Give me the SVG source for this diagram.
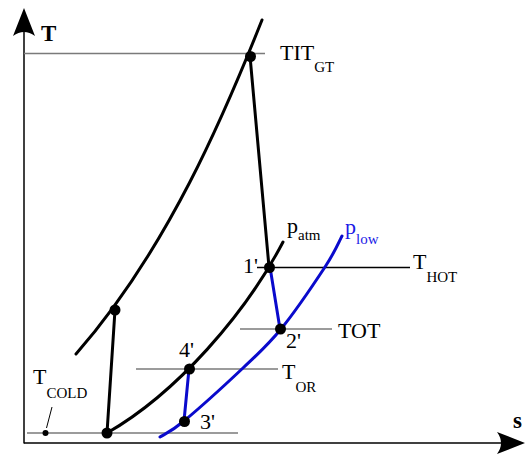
<svg xmlns="http://www.w3.org/2000/svg" width="532" height="455" viewBox="0 0 532 455">
<style>
.t{font-family:"Liberation Serif","Times New Roman",serif;font-size:22px;fill:#000}
.sub{font-size:15px}
.ax{font-weight:bold;font-size:23px}
.blue{fill:#1a1ae6}
.iso{fill:none;stroke:#000;stroke-width:3;stroke-linecap:round}
.bl{fill:none;stroke:#0a0acc;stroke-width:3;stroke-linecap:round}
.grey{stroke:#7a7a7a;stroke-width:1.6;fill:none}
.thin{stroke:#000;stroke-width:1.5;fill:none}
.dot{fill:#000}
</style>
<rect width="532" height="455" fill="#fff"/>
<g id="axes">
  <line class="thin" x1="24" y1="443.5" x2="24" y2="20"/>
  <line class="thin" x1="24" y1="443" x2="510" y2="443"/>
  <path d="M24,8 L35,36 Q24,28 13,36 Z" fill="#000"/>
  <path d="M525,443 L497,432 Q505,443 497,454 Z" fill="#000"/>
  <text class="t ax" x="41" y="41">T</text>
  <text class="t ax" x="513" y="428">s</text>
</g>
<g id="connectors">
  <line class="grey" x1="24" y1="53.5" x2="265" y2="53.5"/>
  <line class="thin" x1="257" y1="267.5" x2="410" y2="267.5"/>
  <line class="grey" x1="240" y1="329" x2="332" y2="329"/>
  <line class="grey" x1="136" y1="369" x2="278" y2="369"/>
  <line class="grey" x1="27" y1="433" x2="238" y2="433"/>
  <path class="iso" d="M76,354 C168,249 225,113 262,20"/>
  <path class="iso" d="M107,433 C177,393 246,313 283,242"/>
  <path class="bl" d="M160,437 C164,434.3 170.2,432.5 184,421 C197.8,409.5 226.8,383.3 243,368 C259.2,352.7 267.3,345.8 281,329 C294.7,312.2 314.8,282.5 325,267 C335.2,251.5 339.2,241.2 342,236"/>
  <line class="iso" x1="250" y1="56" x2="269" y2="267"/>
  <line class="iso" x1="115" y1="310" x2="107" y2="433"/>
  <line class="bl" x1="270" y1="267" x2="280" y2="329"/>
  <line class="bl" x1="189" y1="369" x2="184" y2="421"/>
  <line stroke="#000" stroke-width="1" x1="52" y1="407" x2="46.5" y2="428"/>
</g>
<g id="node-TIT">
  <circle class="dot" cx="250.5" cy="56.5" r="5.5"/>
  <text class="t" x="280" y="60">TIT<tspan class="sub" dy="12">GT</tspan></text>
</g>
<g id="node-1p">
  <circle class="dot" cx="269.5" cy="267.5" r="5.5"/>
  <text class="t" x="243" y="273">1'</text>
</g>
<g id="node-2p">
  <circle class="dot" cx="280.5" cy="329" r="5.5"/>
  <text class="t" x="286" y="348">2'</text>
</g>
<g id="node-3p">
  <circle class="dot" cx="184.5" cy="421.5" r="5.5"/>
  <text class="t" x="200" y="429">3'</text>
</g>
<g id="node-4p">
  <circle class="dot" cx="189.5" cy="369" r="5.5"/>
  <text class="t" x="179" y="357">4'</text>
</g>
<g id="node-comp-in">
  <circle class="dot" cx="107" cy="433" r="5.5"/>
</g>
<g id="node-comp-out">
  <circle class="dot" cx="115" cy="310" r="5.5"/>
</g>
<g id="labels">
  <text class="t" x="413" y="269">T<tspan class="sub" dy="13">HOT</tspan></text>
  <text class="t" x="338" y="338">TOT</text>
  <text class="t" x="282" y="379">T<tspan class="sub" dy="13">OR</tspan></text>
  <text class="t" x="33" y="384">T<tspan class="sub" dy="14">COLD</tspan></text>
  <circle class="dot" cx="45.5" cy="433" r="3"/>
  <text class="t" x="287" y="233">p<tspan class="sub" dy="7">atm</tspan></text>
  <text class="t blue" x="345" y="234">p<tspan class="sub" dy="10">low</tspan></text>
</g>
</svg>
